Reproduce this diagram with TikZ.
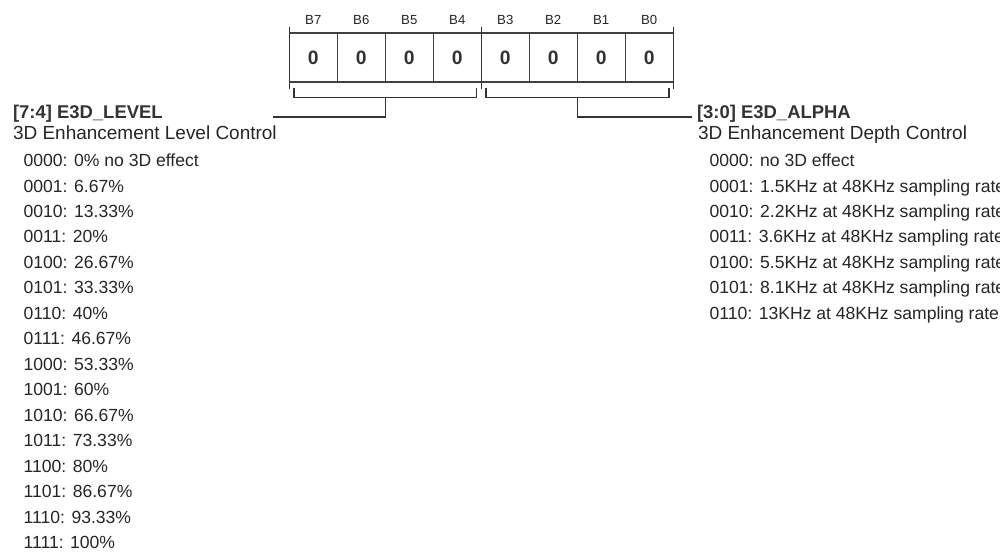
\documentclass[tikz,border=0pt]{standalone}
\usepackage{fontspec}
\setmainfont{Liberation Sans}
\usepackage{tikz}
\usetikzlibrary{positioning}

\begin{document}
\begin{tikzpicture}[
    x=0.02cm, y=-0.02cm,
    cell/.style={rectangle, draw=black!75, line width=0.6pt, outer sep=0pt, inner sep=0pt,
                 minimum width=0.96cm, minimum height=0.98cm,
                 font=\bfseries\fontsize{11}{13}\selectfont, text=black!80},
    bitlbl/.style={inner sep=0pt, font=\fontsize{7.5}{9}\selectfont, text=black!85},
    brk/.style={draw=black!80, line width=0.8pt},
    fld/.style={anchor=base west, inner sep=0pt, font=\bfseries\fontsize{10.5}{12}\selectfont, text=black!80},
    sub/.style={anchor=base west, inner sep=0pt, font=\fontsize{10.8}{12}\selectfont, text=black!85},
    lst/.style={anchor=north west, inner sep=0pt, align=left,
                font=\fontsize{10}{14.5}\selectfont, text=black!85},
  ]
  \clip (0,0) rectangle (1000,553);
  \fill[white] (0,0) rectangle (1000,553);

  % register cells
  \node[cell] (b7) at (313.3,57.5) {0};
  \node[cell, right=0pt of b7] (b6) {0};
  \node[cell, right=0pt of b6] (b5) {0};
  \node[cell, right=0pt of b5] (b4) {0};
  \node[cell, right=0pt of b4] (b3) {0};
  \node[cell, right=0pt of b3] (b2) {0};
  \node[cell, right=0pt of b2] (b1) {0};
  \node[cell, right=0pt of b1] (b0) {0};

  % bit names
  \node[bitlbl] (t7) at ([yshift=7.4pt]b7.north) {B7};
  \node[bitlbl] (t6) at ([yshift=7.4pt]b6.north) {B6};
  \node[bitlbl] (t5) at ([yshift=7.4pt]b5.north) {B5};
  \node[bitlbl] (t4) at ([yshift=7.4pt]b4.north) {B4};
  \node[bitlbl] (t3) at ([yshift=7.4pt]b3.north) {B3};
  \node[bitlbl] (t2) at ([yshift=7.4pt]b2.north) {B2};
  \node[bitlbl] (t1) at ([yshift=7.4pt]b1.north) {B1};
  \node[bitlbl] (t0) at ([yshift=7.4pt]b0.north) {B0};

  % field separators
  \draw[brk, line width=0.6pt] ([yshift=3.5pt]b7.north west) -- ([yshift=-4pt]b7.south west);
  \draw[brk, line width=0.6pt] ([yshift=3.5pt]b3.north west) -- ([yshift=-4pt]b3.south west);
  \draw[brk, line width=0.6pt] ([yshift=3.5pt]b0.north east) -- ([yshift=-4pt]b0.south east);

  % brackets
  \coordinate (lvlend) at (273,117);
  \coordinate (alpend) at (692,117);
  \draw[brk] (294,88) -- (294,97.5) -- (476.7,97.5) -- (476.7,88);
  \draw[brk] (486,88) -- (486,97.5) -- (669,97.5) -- (669,88);
  \draw[brk] (b5.west |- 0,97.5) |- (lvlend);
  \draw[brk] (b1.west |- 0,97.5) |- (alpend);

  % [7:4]
  \node[fld] (lvl) at (12.7,119) {[7:4] E3D\_LEVEL};
  \node[sub] (lvlsub) at (12.7,139.5) {3D Enhancement Level Control};
  \node[lst] (lvllist) at (23.3,153.5) {0000: 0\% no 3D effect\\0001: 6.67\%\\0010: 13.33\%\\0011: 20\%\\
    0100: 26.67\%\\0101: 33.33\%\\0110: 40\%\\0111: 46.67\%\\1000: 53.33\%\\1001: 60\%\\
    1010: 66.67\%\\1011: 73.33\%\\1100: 80\%\\1101: 86.67\%\\1110: 93.33\%\\1111: 100\%};

  % [3:0]
  \node[fld] (alp) at (696.7,118.5) {[3:0] E3D\_ALPHA};
  \node[sub] (alpsub) at (697.7,139.5) {3D Enhancement Depth Control};
  \node[lst] (alplist) at (709.3,153.5) {0000: no 3D effect\\
    0001: 1.5KHz at 48KHz sampling rate\\0010: 2.2KHz at 48KHz sampling rate\\
    0011: 3.6KHz at 48KHz sampling rate\\0100: 5.5KHz at 48KHz sampling rate\\
    0101: 8.1KHz at 48KHz sampling rate\\0110: 13KHz at 48KHz sampling rate};
\end{tikzpicture}
\end{document}
